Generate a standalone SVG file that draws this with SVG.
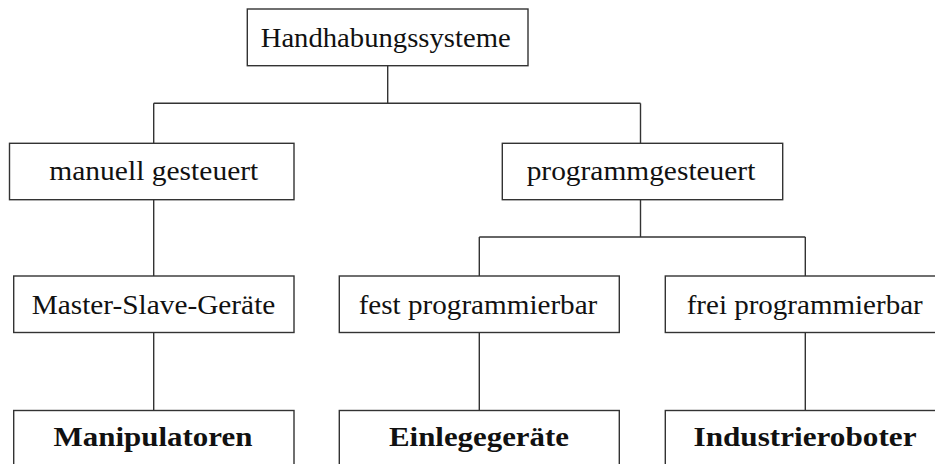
<svg xmlns="http://www.w3.org/2000/svg" width="935" height="464" viewBox="0 0 935 464">
<style>
rect.box{fill:#fff;stroke:#333;stroke-width:1.4}
.conn line{stroke:#333;stroke-width:1.4}
text{font-family:"Liberation Serif","DejaVu Serif",serif;font-size:28px;fill:#111;text-anchor:middle}
text.b{font-weight:bold}
</style>
<rect width="935" height="464" fill="#fff"/>
<g class="conn" id="connectors">
<line x1="387.7" y1="65.7" x2="387.7" y2="103.3"/>
<line x1="153.7" y1="103.3" x2="640.5" y2="103.3"/>
<line x1="153.7" y1="103.3" x2="153.7" y2="143.3"/>
<line x1="640.5" y1="103.3" x2="640.5" y2="143.3"/>
<line x1="153.7" y1="199.7" x2="153.7" y2="276"/>
<line x1="153.7" y1="332.5" x2="153.7" y2="410.5"/>
<line x1="640.5" y1="199.7" x2="640.5" y2="237"/>
<line x1="479.3" y1="237" x2="805.3" y2="237"/>
<line x1="479.3" y1="237" x2="479.3" y2="276"/>
<line x1="805.3" y1="237" x2="805.3" y2="276"/>
<line x1="479.3" y1="332.5" x2="479.3" y2="410.5"/>
<line x1="805.3" y1="332.5" x2="805.3" y2="410.5"/>
</g>
<g id="n-handhabung"><rect class="box" x="247.3" y="9" width="280.7" height="56.7"/><text x="385.7" y="46.5" textLength="250" lengthAdjust="spacingAndGlyphs">Handhabungssysteme</text></g>
<g id="n-manuell"><rect class="box" x="9.5" y="143.3" width="284.5" height="56.4"/><text x="153.8" y="180" textLength="209" lengthAdjust="spacingAndGlyphs">manuell gesteuert</text></g>
<g id="n-programm"><rect class="box" x="502.3" y="143.3" width="280.4" height="56.4"/><text x="641" y="180" textLength="228.7" lengthAdjust="spacingAndGlyphs">programmgesteuert</text></g>
<g id="n-master"><rect class="box" x="13.7" y="276" width="280.3" height="56.5"/><text x="153.5" y="314.3" textLength="243.6" lengthAdjust="spacingAndGlyphs">Master-Slave-Geräte</text></g>
<g id="n-fest"><rect class="box" x="339.3" y="276" width="280" height="56.5"/><text x="478" y="314.3" textLength="238.7" lengthAdjust="spacingAndGlyphs">fest programmierbar</text></g>
<g id="n-frei"><rect class="box" x="665.3" y="276" width="280" height="56.5"/><text x="804.7" y="314.3" textLength="236" lengthAdjust="spacingAndGlyphs">frei programmierbar</text></g>
<g id="n-manipulatoren"><rect class="box" x="13.7" y="410.5" width="280.3" height="56.5"/><text class="b" x="153" y="446" textLength="199" lengthAdjust="spacingAndGlyphs">Manipulatoren</text></g>
<g id="n-einlege"><rect class="box" x="339.3" y="410.5" width="280" height="56.5"/><text class="b" x="479" y="446" textLength="180" lengthAdjust="spacingAndGlyphs">Einlegegeräte</text></g>
<g id="n-industrie"><rect class="box" x="665.3" y="410.5" width="280" height="56.5"/><text class="b" x="805" y="446" textLength="223" lengthAdjust="spacingAndGlyphs">Industrieroboter</text></g>
</svg>
